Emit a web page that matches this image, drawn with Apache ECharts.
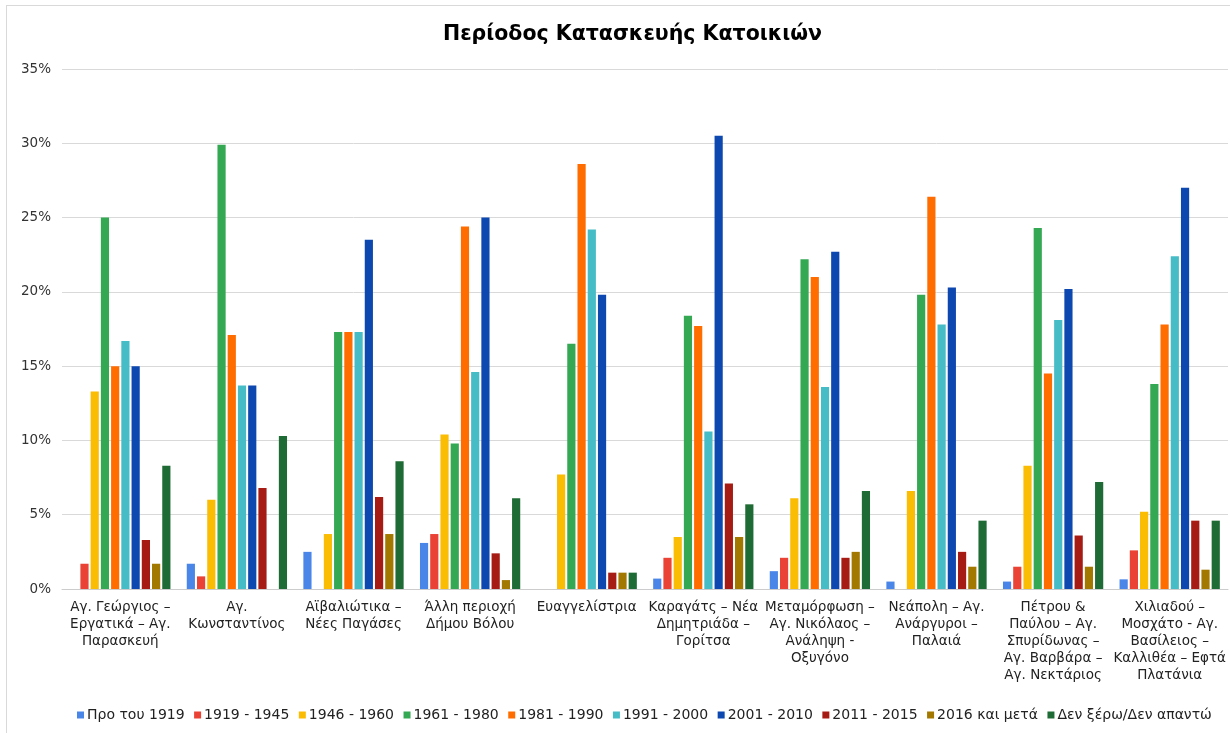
<!DOCTYPE html>
<html>
<head>
<meta charset="utf-8">
<script src="https://cdn.jsdelivr.net/npm/echarts@6/dist/echarts.min.js"></script>
<style>
  html, body { margin: 0; padding: 0; background: #fff; }
  #frame { position: absolute; left: 6px; top: 5px; width: 1224px; height: 728px; border-left: 1px solid #d9d9d9; border-top: 1px solid #d9d9d9; }
  #chart { position: absolute; left: 0; top: 0; width: 1230px; height: 733px; }
</style>
</head>
<body>
<div id="frame"></div>
<div id="chart"></div>
<script>
// περιοχές (κατηγορίες άξονα x)
var areas = [
    'Αγ. Γεώργιος –\nΕργατικά – Αγ.\nΠαρασκευή',
    'Αγ.\nΚωνσταντίνος',
    'Αϊβαλιώτικα –\nΝέες Παγάσες',
    'Άλλη περιοχή\nΔήμου Βόλου',
    'Ευαγγελίστρια',
    'Καραγάτς – Νέα\nΔημητριάδα –\nΓορίτσα',
    'Μεταμόρφωση –\nΑγ. Νικόλαος –\nΑνάληψη -\nΟξυγόνο',
    'Νεάπολη – Αγ.\nΑνάργυροι –\nΠαλαιά',
    'Πέτρου &\nΠαύλου – Αγ.\nΣπυρίδωνας –\nΑγ. Βαρβάρα –\nΑγ. Νεκτάριος',
    'Χιλιαδού –\nΜοσχάτο - Αγ.\nΒασίλειος –\nΚαλλιθέα – Εφτά\nΠλατάνια'
];

var periods = ['Προ του 1919', '1919 - 1945', '1946 - 1960', '1961 - 1980', '1981 - 1990',
    '1991 - 2000', '2001 - 2010', '2011 - 2015', '2016 και μετά', 'Δεν ξέρω/Δεν απαντώ'];

// ποσοστά ανά περίοδο, μία τιμή για κάθε περιοχή
var pre1919  = [0,    1.7,  2.5,  3.1,  0,    0.7,  1.2,  0.5,  0.5,  0.65];
var p1919_45 = [1.7,  0.85, 0,    3.7,  0,    2.1,  2.1,  0,    1.5,  2.6];
var p1946_60 = [13.3, 6.0,  3.7,  10.4, 7.7,  3.5,  6.1,  6.6,  8.3,  5.2];
var p1961_80 = [25.0, 29.9, 17.3, 9.8,  16.5, 18.4, 22.2, 19.8, 24.3, 13.8];
var p1981_90 = [15.0, 17.1, 17.3, 24.4, 28.6, 17.7, 21.0, 26.4, 14.5, 17.8];
var p1991_00 = [16.7, 13.7, 17.3, 14.6, 24.2, 10.6, 13.6, 17.8, 18.1, 22.4];
var p2001_10 = [15.0, 13.7, 23.5, 25.0, 19.8, 30.5, 22.7, 20.3, 20.2, 27.0];
var p2011_15 = [3.3,  6.8,  6.2,  2.4,  1.1,  7.1,  2.1,  2.5,  3.6,  4.6];
var p2016    = [1.7,  0,    3.7,  0.6,  1.1,  3.5,  2.5,  1.5,  1.5,  1.3];
var dontKnow = [8.3,  10.3, 8.6,  6.1,  1.1,  5.7,  6.6,  4.6,  7.2,  4.6];

var seriesData = [pre1919, p1919_45, p1946_60, p1961_80, p1981_90, p1991_00, p2001_10, p2011_15, p2016, dontKnow];
var colors = ['#4a86e8', '#ea4335', '#fbbc04', '#34a853', '#ff6d01', '#46bdc6', '#0d47b0', '#a61c14', '#a37800', '#1f6b35'];

var font = 'DejaVu Sans, Arial, sans-serif';

var series = periods.map(function (name, i) {
    return {
        name: name,
        type: 'bar',
        barGap: '25%',
        barCategoryGap: '14%',
        data: seriesData[i]
    };
});

var option = {
    animation: false,
    color: colors,
    textStyle: { fontFamily: font },
    title: {
        left: 438,
        top: 19,
        text: 'Περίοδος Κατασκευής Κατοικιών',
        textStyle: { color: '#000', fontSize: 20.5, fontWeight: 'bold', fontFamily: font }
    },
    legend: {
        bottom: 6,
        left: 72,
        padding: [5, 0, 5, 5],
        itemWidth: 7,
        itemHeight: 7,
        itemGap: 9.5,
        icon: 'rect',
        textStyle: { color: '#222', fontSize: 14, padding: [0, 0, 0, -2] },
        data: periods
    },
    grid: { left: 62, right: 2, top: 69, bottom: 144 },
    xAxis: {
        type: 'category',
        data: areas,
        axisLine: { lineStyle: { color: '#ccc' } },
        axisTick: { show: false },
        axisLabel: { interval: 0, color: '#222', fontSize: 13.5, lineHeight: 17, margin: 10 }
    },
    yAxis: {
        type: 'value',
        min: 0,
        max: 35,
        interval: 5,
        axisLine: { show: false },
        axisTick: { show: false },
        splitLine: { lineStyle: { color: '#d9d9d9' } },
        axisLabel: { formatter: '{value}%', color: '#333', fontSize: 13.5, margin: 11 }
    },
    series: series
};

var myChart = echarts.init(document.getElementById('chart'));
myChart.setOption(option);
</script>
</body>
</html>
